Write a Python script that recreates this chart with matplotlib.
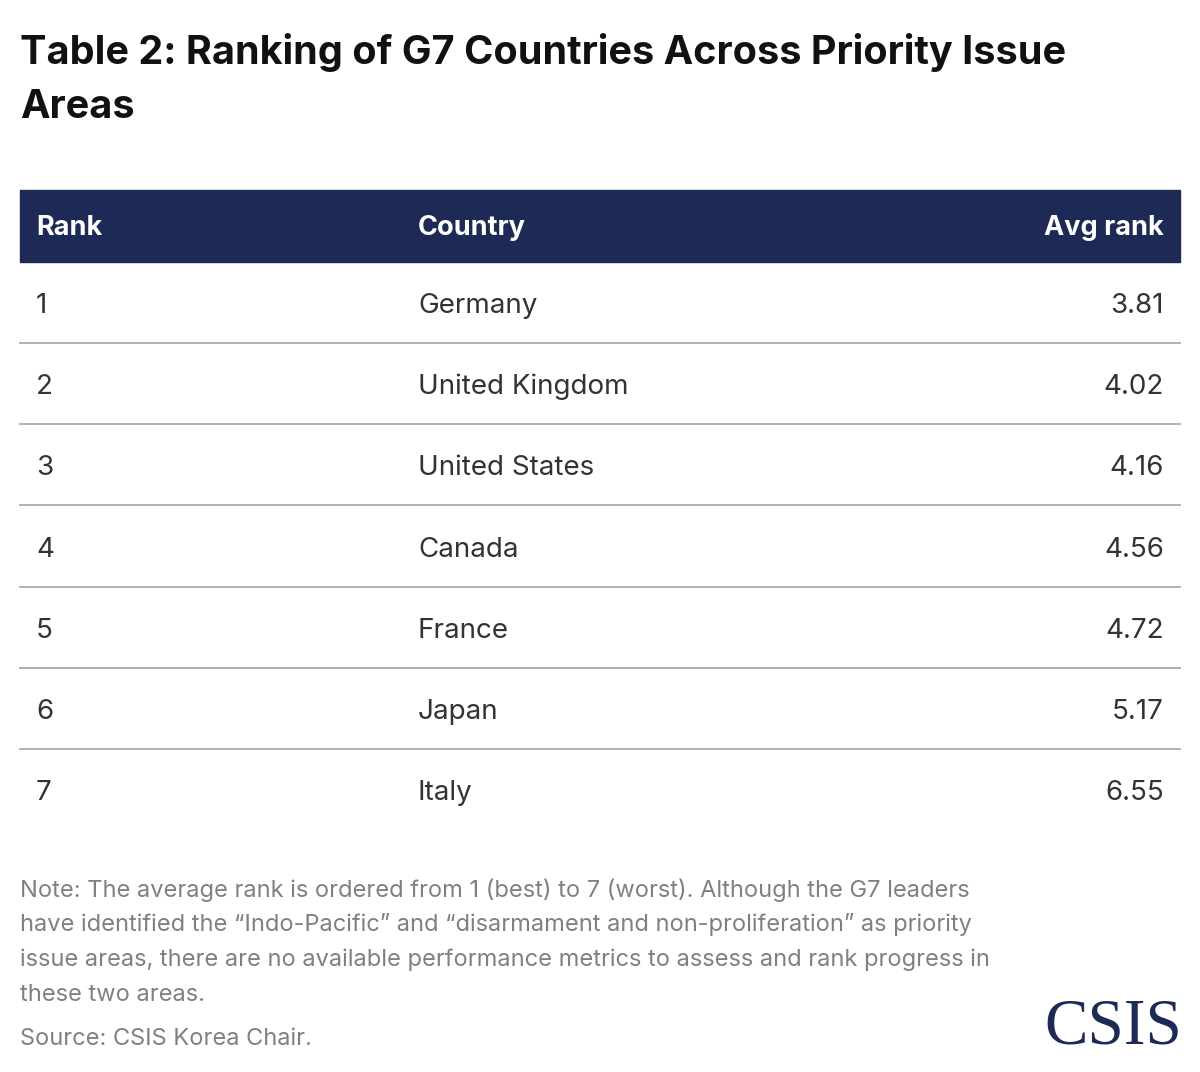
import matplotlib.pyplot as plt
from matplotlib.patches import Rectangle

ranks = ["1", "2", "3", "4", "5", "6", "7"]
countries = ["Germany", "United Kingdom", "United States", "Canada", "France", "Japan", "Italy"]
avg_rank = ["3.81", "4.02", "4.16", "4.56", "4.72", "5.17", "6.55"]
headers = ["Rank", "Country", "Avg rank"]

navy = "#1e2a56"
fig = plt.figure(figsize=(12, 10.72), dpi=100)
ax = fig.add_axes([0, 0, 1, 1])
ax.set_xlim(0, 1200)
ax.set_ylim(1072, 0)
ax.axis("off")

font = "Inter"
ax.text(20, 52, "Table 2: Ranking of G7 Countries Across Priority Issue", fontsize=28.5,
        fontweight="bold", va="center", family=font, color="#111111")
ax.text(20, 108, "Areas", fontsize=28.5, fontweight="bold", va="center", family=font, color="#111111")

# header band
ax.add_patch(Rectangle((20, 190), 1160, 72, color=navy))
ax.text(36, 228, headers[0], color="white", fontsize=19.5, fontweight="bold", va="center", family=font)
ax.text(418, 228, headers[1], color="white", fontsize=19.5, fontweight="bold", va="center", family=font)
ax.text(1164, 228, headers[2], color="white", fontsize=19.5, fontweight="bold", va="center", ha="right", family=font)

row_h = 81.2
for i, (r, c, a) in enumerate(zip(ranks, countries, avg_rank)):
    yc = 306 + i * row_h
    ax.text(36, yc, r, fontsize=20, va="center", color="#333333", family=font)
    ax.text(418, yc, c, fontsize=20, va="center", color="#333333", family=font)
    ax.text(1164, yc, a, fontsize=20, va="center", ha="right", color="#333333", family=font)
    if i < len(ranks) - 1:
        ax.plot([20, 1180], [yc + 37, yc + 37], color="#aaaaaa", lw=1.3)

note = ["Note: The average rank is ordered from 1 (best) to 7 (worst). Although the G7 leaders",
        "have identified the \u201cIndo-Pacific\u201d and \u201cdisarmament and non-proliferation\u201d as priority",
        "issue areas, there are no available performance metrics to assess and rank progress in",
        "these two areas."]
for i, line in enumerate(note):
    ax.text(20, 890 + i * 35, line, fontsize=17, va="center", color="#808080", family=font)
ax.text(20, 1039, "Source: CSIS Korea Chair.", fontsize=17, va="center", color="#808080", family=font)
ax.text(1182, 1028, "CSIS", fontsize=47, va="center", ha="right", color=navy, family="Liberation Serif")

fig.savefig("out.png", dpi=100)
